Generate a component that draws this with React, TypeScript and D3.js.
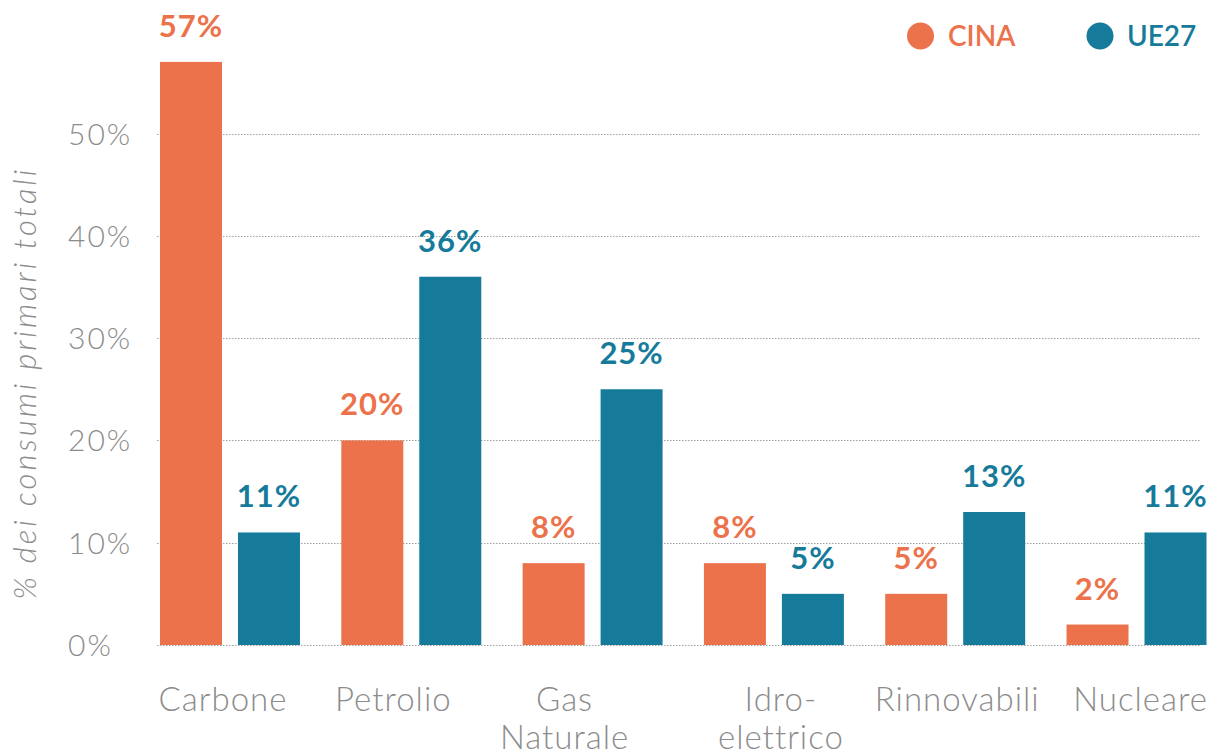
import React from "react";
import * as d3 from "d3";

// Energy mix: share of total primary consumption (%)
const categories = ["Carbone", "Petrolio", "Gas Naturale", "Idro- elettrico", "Rinnovabili", "Nucleare"];
const categoryLines = [["Carbone"], ["Petrolio"], ["Gas", "Naturale"], ["Idro-", "elettrico"], ["Rinnovabili"], ["Nucleare"]];
const seriesNames = ["CINA", "UE27"];
const cinaValues = [57, 20, 8, 8, 5, 2];
const ue27Values = [11, 36, 25, 5, 13, 11];
const yTicks = [0, 10, 20, 30, 40, 50];
const yAxisTitle = "% dei consumi primari totali";

const COLORS: Record<string, string> = { CINA: "#EC724B", UE27: "#167B9A" };
const GRAY = "#8c8c8c";
const FONT = "Lato, 'Open Sans', sans-serif";

// horizontal nudges for the category captions, relative to each group centre
const LABEL_NUDGE = [-7, -18, -28, 7, 2, 4];

export default function App() {
  const width = 1217;
  const height = 756;

  const x0 = d3.scaleBand<string>().domain(categories).range([160, 1206.5]).paddingInner(0.228).paddingOuter(0);
  const x1 = d3.scaleBand<string>().domain(seriesNames).range([0, x0.bandwidth()]).paddingInner(0.205);
  const y = d3.scaleLinear().domain([0, 50]).range([645, 133.5]);

  const valuesBySeries: Record<string, number[]> = { CINA: cinaValues, UE27: ue27Values };

  return (
    <svg
      width={width}
      height={height}
      style={{ position: "absolute", left: 0, top: 0, background: "#fff" }}
      fontFamily={FONT}
    >
      {/* dotted gridlines */}
      <g>
        {yTicks.map((t) => (
          <line
            key={t}
            x1={157}
            x2={1201}
            y1={Math.round(y(t)) + 0.5}
            y2={Math.round(y(t)) + 0.5}
            stroke="#a0a0a0"
            strokeWidth={1}
            strokeDasharray="1.5,1.5"
          />
        ))}
      </g>

      {/* y tick labels */}
      <g>
        {yTicks.map((t) => (
          <text key={t} x={68} y={y(t) + 11} fontSize={30} fontWeight={300} fill={GRAY} letterSpacing={2}>
            {t}%
          </text>
        ))}
      </g>

      {/* y axis title */}
      <text
        transform={`translate(36, ${383}) rotate(-90)`}
        textAnchor="middle"
        fontSize={31}
        fontWeight={300}
        fontStyle="italic"
        fill={GRAY}
        letterSpacing={3}
      >
        {yAxisTitle}
      </text>

      {/* bars and value labels */}
      {categories.map((c, i) => (
        <g key={c} transform={`translate(${x0(c)},0)`}>
          {seriesNames.map((s) => {
            const v = valuesBySeries[s][i];
            const bx = x1(s)!;
            return (
              <g key={s}>
                <rect x={bx} y={y(v)} width={x1.bandwidth()} height={y(0) - y(v)} fill={COLORS[s]} />
                <text
                  x={bx + x1.bandwidth() / 2}
                  y={y(v) - 25}
                  textAnchor="middle"
                  fontSize={31}
                  fontWeight={700}
                  fill={COLORS[s]}
                  letterSpacing={1}
                >
                  {v}%
                </text>
              </g>
            );
          })}
        </g>
      ))}

      {/* category labels, one text element per line */}
      {categories.map((c, i) => {
        const cx = x0(c)! + x0.bandwidth() / 2 + LABEL_NUDGE[i];
        return (
          <g key={c}>
            {categoryLines[i].map((line, j) => (
              <text
                key={j}
                x={cx}
                y={711 + j * 38}
                textAnchor="middle"
                fontSize={33}
                fontWeight={300}
                fill={GRAY}
                letterSpacing={1}
              >
                {line}
              </text>
            ))}
          </g>
        );
      })}

      {/* legend */}
      <g>
        <circle cx={920.5} cy={36} r={13.5} fill={COLORS.CINA} />
        <text x={948} y={46} fontSize={28} fontWeight={600} fill={COLORS.CINA}>
          CINA
        </text>
        <circle cx={1100} cy={36} r={13.5} fill={COLORS.UE27} />
        <text x={1127} y={46} fontSize={28} fontWeight={600} fill={COLORS.UE27}>
          UE27
        </text>
      </g>
    </svg>
  );
}
